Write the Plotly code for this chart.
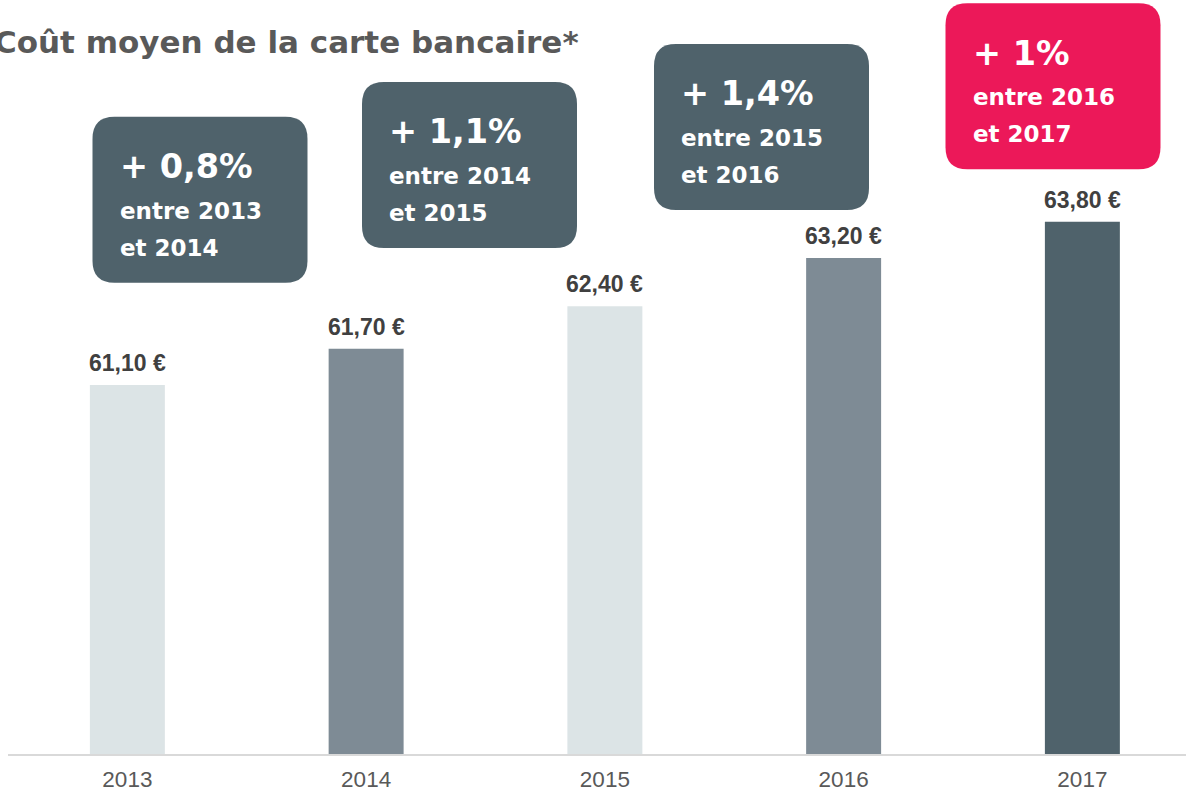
import plotly.graph_objects as go

# ---- data ----
years = ["2013", "2014", "2015", "2016", "2017"]
costs = [61.10, 61.70, 62.40, 63.20, 63.80]
cost_labels = ["61,10 €", "61,70 €", "62,40 €", "63,20 €", "63,80 €"]
change_pct = ["+ 0,8%", "+ 1,1%", "+ 1,4%", "+ 1%"]
change_from = ["entre 2013", "entre 2014", "entre 2015", "entre 2016"]
change_to = ["et 2014", "et 2015", "et 2016", "et 2017"]
title_text = "Coût moyen de la carte bancaire*"

# ---- styles ----
bar_colors = ["#dce4e6", "#7e8b95", "#dce4e6", "#7e8b95", "#4f626b"]
box_colors = ["#4f626b", "#4f626b", "#4f626b", "#ec1859"]
W, H = 1186, 793
ML, MR, MT, MB = 8, 0, 0, 39
PW, PH = W - ML - MR, H - MT - MB
Y0 = 55.0
PX_PER_UNIT = 60.49
Y1 = Y0 + PH / PX_PER_UNIT
X_STEP = 238.75
XR = [-0.5, -0.5 + PW / X_STEP]

# box layout (pixel positions of top-left corners)
box_pos = [(92.5, 116.7), (362, 82), (654, 44), (945.5, 3.3)]
BOX_W, BOX_H, RAD = 215, 166, 22


def px(xp):
    return (xp - ML) / PW


def py(yp):
    return (MT + PH - yp) / PH


fig = go.Figure()
fig.add_trace(go.Bar(
    x=list(range(len(years))), y=costs,
    marker=dict(color=bar_colors, line=dict(width=0)),
    width=0.314, hoverinfo="skip",
))

shapes = []
annotations = []
for i, (bx, by) in enumerate(box_pos):
    x0, x1 = bx, bx + BOX_W
    y0, y1 = by, by + BOX_H
    r = RAD
    pts = [
        ("M", (x0 + r, y0)), ("L", (x1 - r, y0)), ("Q", (x1, y0), (x1, y0 + r)),
        ("L", (x1, y1 - r)), ("Q", (x1, y1), (x1 - r, y1)),
        ("L", (x0 + r, y1)), ("Q", (x0, y1), (x0, y1 - r)),
        ("L", (x0, y0 + r)), ("Q", (x0, y0), (x0 + r, y0)),
    ]
    path = ""
    for cmd, *ps in pts:
        path += cmd + " " + " ".join(f"{px(a):.5f},{py(b):.5f}" for a, b in ps) + " "
    path += "Z"
    shapes.append(dict(type="path", path=path, xref="paper", yref="paper",
                       fillcolor=box_colors[i], line=dict(width=0), layer="above"))
    tx = bx + 25
    for txt, base, size in [(change_pct[i], by + 60, 33.5),
                            (change_from[i], by + 101, 23),
                            (change_to[i], by + 138, 23)]:
        annotations.append(dict(
            text=f"<b>{txt}</b>", x=px(tx), y=py(base - 0.3 * size),
            xref="paper", yref="paper", xanchor="left", yanchor="middle",
            showarrow=False,
            font=dict(family="DejaVu Sans", size=size, color="white"),
        ))

for i, (v, lab) in enumerate(zip(costs, cost_labels)):
    annotations.append(dict(
        text=f"<b>{lab}</b>", x=i, y=v, xref="x", yref="y",
        xanchor="center", yanchor="bottom", yshift=7, showarrow=False,
        font=dict(family="Liberation Sans, Arial", size=23, color="#404040"),
    ))

annotations.append(dict(
    text=f"<b>{title_text}</b>", x=px(-8), y=py(42),
    xref="paper", yref="paper", xanchor="left", yanchor="middle",
    showarrow=False,
    font=dict(family="DejaVu Sans", size=31, color="#595959"),
))

fig.update_layout(
    width=W, height=H,
    margin=dict(l=ML, r=MR, t=MT, b=MB, pad=0, autoexpand=False),
    paper_bgcolor="white", plot_bgcolor="white",
    showlegend=False,
    shapes=shapes, annotations=annotations,
    xaxis=dict(range=XR, showgrid=False, zeroline=False, automargin=False,
               tickmode="array", tickvals=list(range(len(years))), ticktext=years,
               showline=True, linecolor="#d9d9d9", linewidth=2,
               ticks="", ticklabelstandoff=4,
               tickfont=dict(family="Liberation Sans, Arial", size=22.5, color="#595959"),
               fixedrange=True),
    yaxis=dict(range=[Y0, Y1], visible=False, showgrid=False, zeroline=False,
               automargin=False, fixedrange=True),
)

fig.write_html(
    "out.html",
    config={"displayModeBar": False},
    post_script="document.body.style.margin='0';document.body.style.overflow='hidden';",
)
